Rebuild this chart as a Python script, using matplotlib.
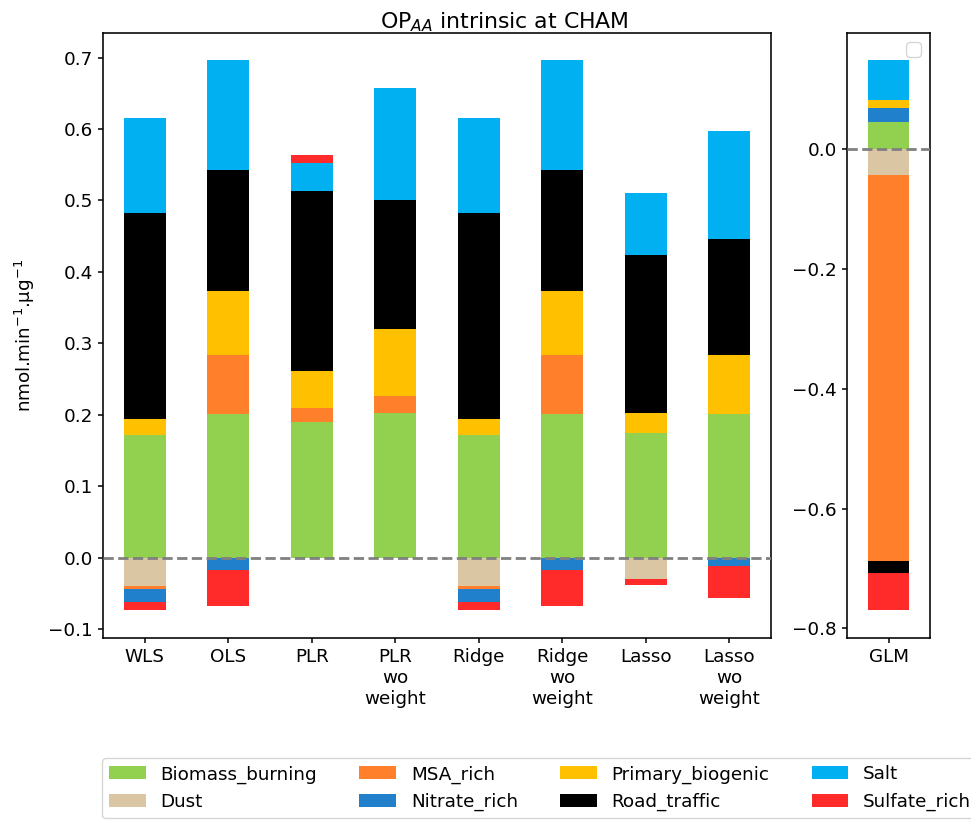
import numpy as np
import matplotlib
matplotlib.use("Agg")
import matplotlib.pyplot as plt

plt.rcParams['font.size'] = 13.2
plt.rcParams['axes.linewidth'] = 1.15
plt.rcParams['xtick.major.size'] = 3.8
plt.rcParams['ytick.major.size'] = 3.8
plt.rcParams['xtick.major.width'] = 1.1
plt.rcParams['ytick.major.width'] = 1.1

methods = ["WLS", "OLS", "PLR", "PLR\nwo\nweight", "Ridge", "Ridge\nwo\nweight",
           "Lasso", "Lasso\nwo\nweight", "GLM"]

sources = ["Biomass_burning", "Dust", "MSA_rich", "Nitrate_rich",
           "Primary_biogenic", "Road_traffic", "Salt", "Sulfate_rich"]

biomass_burning = [0.172, 0.201, 0.190, 0.203, 0.172, 0.201, 0.174, 0.201, 0.046]
dust = [-0.040, 0.0, 0.0, 0.0, -0.040, 0.0, -0.030, 0.0, -0.043]
msa_rich = [-0.004, 0.082, 0.019, 0.023, -0.004, 0.082, 0.0, 0.0, -0.644]
nitrate_rich = [-0.018, -0.017, 0.0, 0.0, -0.018, -0.017, 0.0, -0.012, 0.022]
primary_biogenic = [0.022, 0.090, 0.052, 0.094, 0.022, 0.090, 0.028, 0.082, 0.014]
road_traffic = [0.288, 0.169, 0.252, 0.180, 0.288, 0.169, 0.221, 0.163, -0.021]
salt = [0.133, 0.154, 0.040, 0.158, 0.133, 0.154, 0.088, 0.151, 0.066]
sulfate_rich = [-0.012, -0.051, 0.010, 0.0, -0.012, -0.051, -0.008, -0.044, -0.062]

colors = ['#92d050', '#dbc6a3', '#ff7f2a', '#2080cc', '#ffc000', '#000000', '#00b0f0', '#ff2a2a']

values = np.array([biomass_burning, dust, msa_rich, nitrate_rich,
                   primary_biogenic, road_traffic, salt, sulfate_rich])

fig = plt.figure(figsize=(9.71, 8.21), dpi=100)
ax = fig.add_axes([0.106, 0.2229, 0.688, 0.737])
ax2 = fig.add_axes([0.8723, 0.2229, 0.0855, 0.737])


def stacked(axis, vals, x):
    pos = np.zeros(len(x))
    neg = np.zeros(len(x))
    handles = []
    for name, v, c in zip(sources, vals, colors):
        v = np.asarray(v)
        bottom = np.where(v >= 0, pos, neg)
        h = axis.bar(x, v, 0.5, bottom=bottom, color=c, label=name, linewidth=0)
        pos = pos + np.clip(v, 0, None)
        neg = neg + np.clip(v, None, 0)
        handles.append(h)
    axis.set_xlim(-0.5, len(x) - 0.5)
    axis.axhline(0, color='gray', linestyle='--', linewidth=2, zorder=3)
    return handles


x_main = np.arange(8)
handles = stacked(ax, values[:, :8], x_main)
ax.set_xticks(x_main)
ax.set_xticklabels(methods[:8], rotation=0)
ax.set_yticks(np.arange(-0.1, 0.71, 0.1))
ax.set_ylabel("nmol.min$^{-1}$.µg$^{-1}$", labelpad=8)

stacked(ax2, values[:, 8:], np.arange(1))
ax2.set_xticks([0])
ax2.set_xticklabels(methods[8:])
ax2.legend(handles=[], loc='upper right')

fig.text(504 / 971, 1 - 22 / 821, "OP$_{AA}$ intrinsic at CHAM", ha='center', va='center', fontsize=15.8)

fig.legend(handles=handles, labels=sources, ncol=4, loc='upper left',
           bbox_to_anchor=(102 / 971, 1 - 758 / 821), borderaxespad=0,
           columnspacing=2.3)

plt.savefig("out.png", dpi=100)
